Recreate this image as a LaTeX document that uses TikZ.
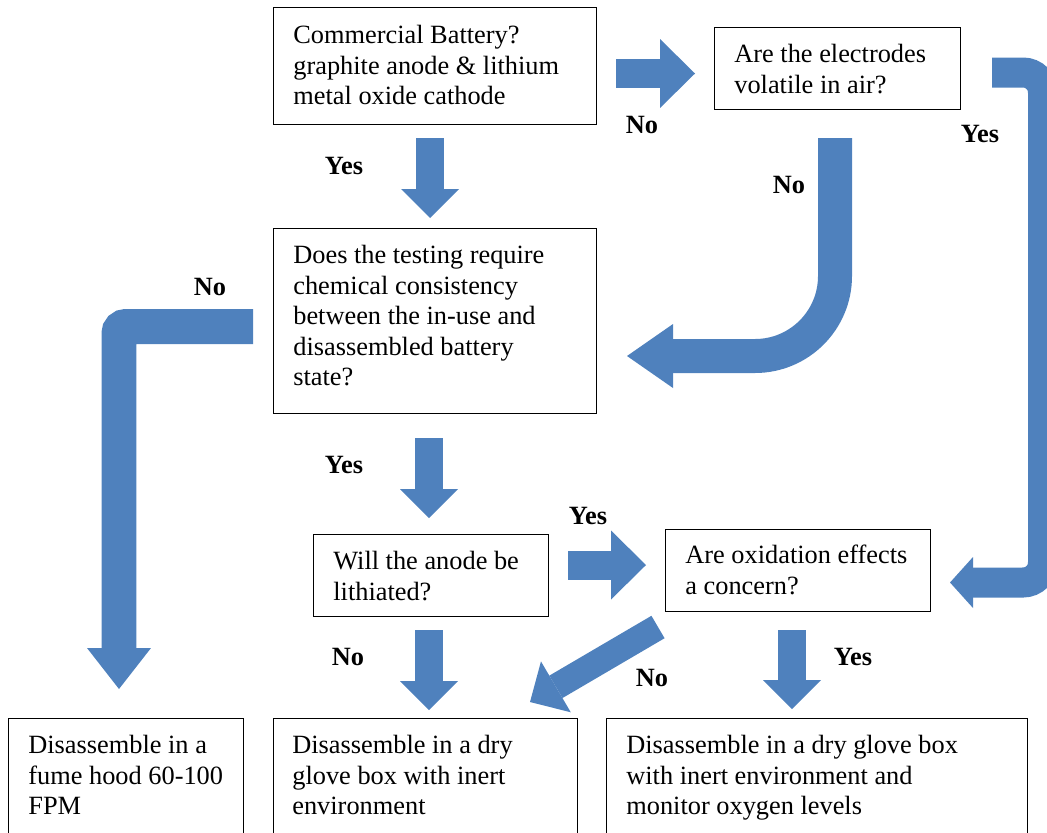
\documentclass[tikz,border=0pt]{standalone}
\usepackage{fontspec}
\setmainfont{Liberation Serif}
\usetikzlibrary{arrows.meta}
\definecolor{flowblue}{RGB}{79,129,189}
\tikzset{
  box/.style={draw, line width=0.8pt, anchor=north west, inner sep=0pt},
  txt/.style={anchor=north west, inner sep=0pt, align=left, font=\fontsize{15}{17.4}\selectfont},
  lab/.style={inner sep=0pt, font=\fontsize{15}{18}\selectfont\bfseries},
  flow/.style={draw=flowblue, line width=#1},
  fat/.style={flow=0.56cm, -{Triangle[width=1.16cm,length=0.58cm,line width=0pt]}},
  side/.style={flow=0.58cm, -{Triangle[width=1.38cm,length=0.7cm,line width=0pt]}},
}
\begin{document}
\begin{tikzpicture}[x=0.02cm,y=-0.02cm]
  \useasboundingbox (0,0) rectangle (1047,832);
  \clip (0,0) rectangle (1047,832);
  % questions
  \node[box,minimum width=6.46cm,minimum height=2.34cm] (q1) at (273,7) {};
  \node[txt] (t1) at ([shift={(20,18)}]q1.north west) {Commercial Battery?\\graphite anode \& lithium\\metal oxide cathode};
  \node[box,minimum width=4.92cm,minimum height=1.64cm] (q2) at (714,27) {};
  \node[txt] (t2) at ([shift={(20,17)}]q2.north west) {Are the electrodes\\volatile in air?};
  \node[box,minimum width=6.46cm,minimum height=3.70cm] (q3) at (273,228) {};
  \node[txt] (t3) at ([shift={(20,17)}]q3.north west) {Does the testing require\\chemical consistency\\between the in-use and\\disassembled battery\\state?};
  \node[box,minimum width=4.70cm,minimum height=1.64cm] (q4) at (313,534) {};
  \node[txt] (t4) at ([shift={(20,17)}]q4.north west) {Will the anode be\\lithiated?};
  \node[box,minimum width=5.30cm,minimum height=1.64cm] (q5) at (665,529) {};
  \node[txt] (t5) at ([shift={(20,16)}]q5.north west) {Are oxidation effects\\a concern?};
  % outcomes
  \node[box,minimum width=4.70cm,minimum height=2.60cm] (e1) at (8,718) {};
  \node[txt] (s1) at ([shift={(20,17)}]e1.north west) {Disassemble in a\\fume hood 60-100\\FPM};
  \node[box,minimum width=6.08cm,minimum height=2.60cm] (e2) at (273,718) {};
  \node[txt] (s2) at ([shift={(19,17)}]e2.north west) {Disassemble in a dry\\glove box with inert\\environment};
  \node[box,minimum width=8.42cm,minimum height=2.60cm] (e3) at (606,718) {};
  \node[txt] (s3) at ([shift={(20,17)}]e3.north west) {Disassemble in a dry glove box\\with inert environment and\\monitor oxygen levels};
  % arrow ends
  \coordinate (a1) at (430,138); \coordinate (b1) at (430,218);
  \coordinate (a2) at (616,73.5); \coordinate (b2) at (695,73.5);
  \coordinate (a3) at (835,138); \coordinate (c3) at (835,356); \coordinate (b3) at (627,356);
  \coordinate (a4) at (992,72.5); \coordinate (c4) at (1043,72.5); \coordinate (d4) at (1043,582.5); \coordinate (b4) at (950,582.5);
  \coordinate (a5) at (253,326.5); \coordinate (c5) at (119,326.5); \coordinate (b5) at (119,689);
  \coordinate (a6) at (429,438); \coordinate (b6) at (429,518);
  \coordinate (a7) at (568,565); \coordinate (b7) at (646,565);
  \coordinate (a8) at (429,630); \coordinate (b8) at (429,710);
  \coordinate (a9) at (658,627); \coordinate (b9) at (530,702);
  \coordinate (a10) at (792,630); \coordinate (b10) at (792,709);
  % arrows
  \draw[fat] (a1) -- (b1);
  \draw[side] (a2) -- (b2);
  \draw[flow=0.68cm,rounded corners=1.6cm,-{Triangle[width=1.28cm,length=0.92cm,line width=0pt]}] (a3) -- (c3) -- (b3);
  \draw[flow=0.6cm,rounded corners=0.4cm,-{Triangle[width=1.02cm,length=0.46cm,line width=0pt]}] (a4) -- (c4) -- (d4) -- (b4);
  \draw[flow=0.7cm,rounded corners=0.14cm,-{Triangle[width=1.28cm,length=0.82cm,line width=0pt]}] (a5) -- (c5) -- (b5);
  \draw[fat] (a6) -- (b6);
  \draw[side] (a7) -- (b7);
  \draw[fat] (a8) -- (b8);
  \draw[flow=0.52cm,-{Triangle[width=1.18cm,length=0.6cm,line width=0pt]}] (a9) -- (b9);
  \draw[fat] (a10) -- (b10);
  % labels
  \node[lab] (l1) at (344,166) {Yes};
  \node[lab] (l2) at (642,125) {No};
  \node[lab] (l3) at (789,185) {No};
  \node[lab] (l4) at (980,134) {Yes};
  \node[lab] (l5) at (210,287) {No};
  \node[lab] (l6) at (344,465) {Yes};
  \node[lab] (l7) at (588,516) {Yes};
  \node[lab] (l8) at (348,657) {No};
  \node[lab] (l9) at (652,678) {No};
  \node[lab] (l10) at (853,657) {Yes};
\end{tikzpicture}
\end{document}
